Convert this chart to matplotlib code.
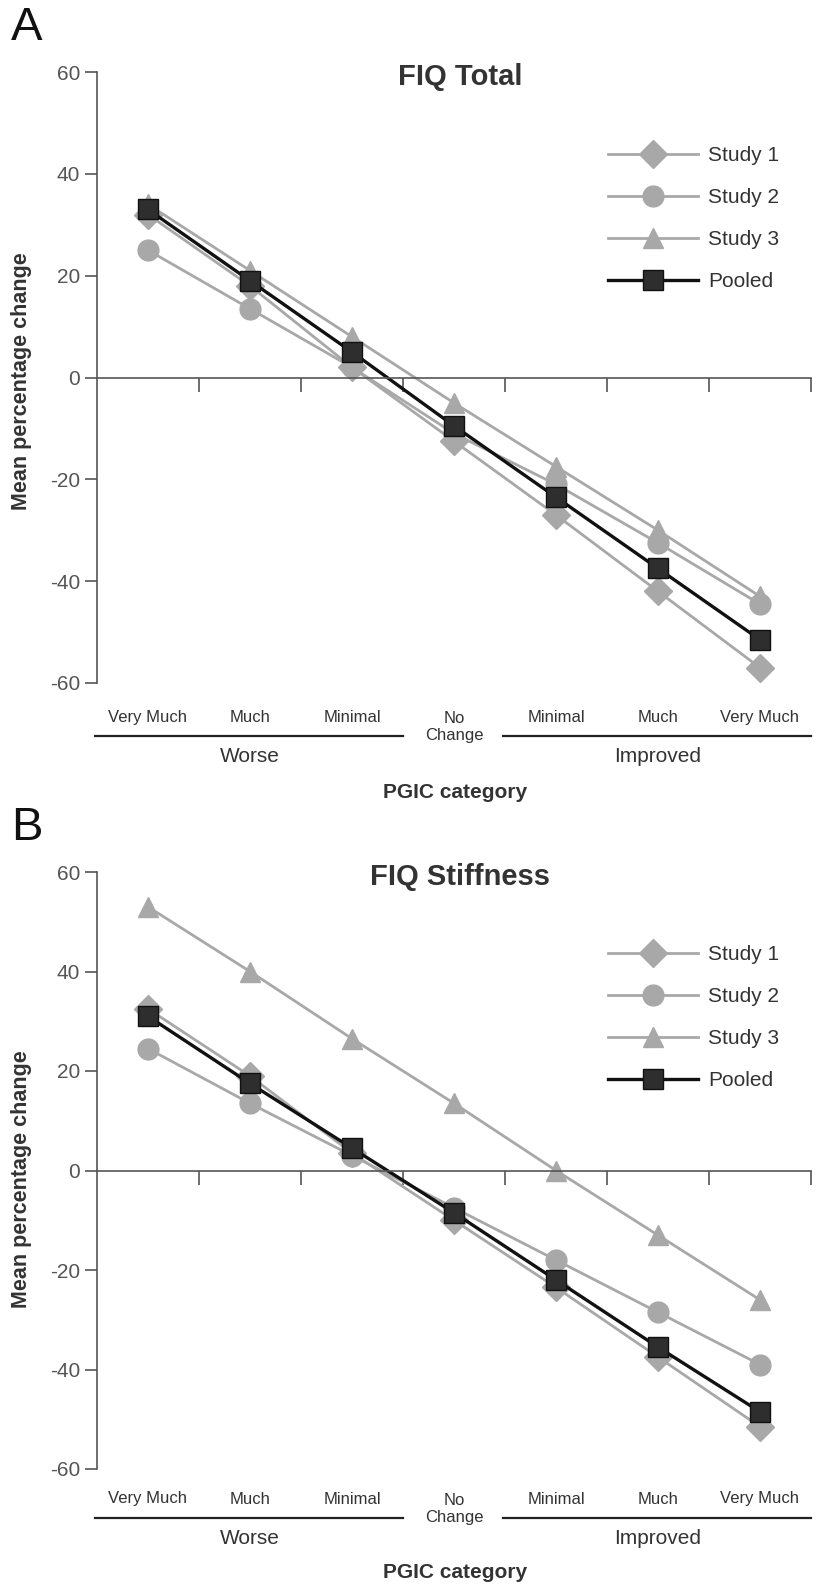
import matplotlib
matplotlib.use("Agg")
import matplotlib.pyplot as plt
from matplotlib.transforms import blended_transform_factory
from matplotlib.lines import Line2D

plt.rcParams["axes.unicode_minus"] = False

W, H = 824, 1594
SANS = ["Liberation Sans", "DejaVu Sans"]

categories = ["Very Much", "Much", "Minimal", "No\nChange", "Minimal", "Much", "Very Much"]
series_names = ["Study 1", "Study 2", "Study 3", "Pooled"]

# FIQ Total
total_study1 = [32, 18, 2, -12.5, -27, -42, -57]
total_study2 = [25, 13.5, 2, -11, -21, -32.5, -44.5]
total_study3 = [34, 21, 8, -5, -17.5, -30, -43]
total_pooled = [33, 19, 5, -9.5, -23.5, -37.5, -51.5]

# FIQ Stiffness
stiff_study1 = [32.5, 19, 3.5, -10, -23.5, -37.5, -51.5]
stiff_study2 = [24.5, 13.5, 3, -7.5, -18, -28.5, -39]
stiff_study3 = [53, 40, 26.5, 13.5, 0, -13, -26]
stiff_pooled = [31, 17.5, 4.5, -8.5, -22, -35.5, -48.5]

GRAY = "#a8a8a8"
styles = [
    dict(color=GRAY, marker="D", markersize=14, mfc=GRAY, mec=GRAY, lw=2),
    dict(color=GRAY, marker="o", markersize=15, mfc=GRAY, mec=GRAY, lw=2),
    dict(color=GRAY, marker="^", markersize=15, mfc=GRAY, mec=GRAY, lw=2),
    dict(color="#111111", marker="s", markersize=14, mfc="#2e2e2e", mec="#111111", lw=2.4),
]


def fx(px):
    return px / W


def fy(py):
    return 1 - py / H


fig = plt.figure(figsize=(W / 100, H / 100), dpi=100)


def panel(top, bottom, data, title, letter, rows, legend_y, ylab_y):
    ax = fig.add_axes([fx(97), fy(bottom), fx(811) - fx(97), fy(top) - fy(bottom)])
    xs = [i + 0.5 for i in range(len(categories))]
    for vals, st, name in zip(data, styles, series_names):
        ax.plot(xs, vals, label=name, **st)
    ax.set_xlim(0, 7)
    ax.set_ylim(-60, 60)
    for s in ["top", "right"]:
        ax.spines[s].set_visible(False)
    ax.spines["bottom"].set_position(("data", 0))
    for s in ["left", "bottom"]:
        ax.spines[s].set_color("#555555")
        ax.spines[s].set_linewidth(1.2)
    ax.set_yticks(range(-60, 61, 20))
    ax.set_xticks(range(1, 8))
    ax.set_xticklabels([])
    ax.tick_params(axis="y", direction="out", length=9, width=1.2, color="#555555",
                   labelsize=15, labelcolor="#555555", pad=3)
    ax.tick_params(axis="x", direction="out", length=10, width=1.2, color="#555555")
    for t in ax.get_yticklabels():
        t.set_family(SANS)

    tr = blended_transform_factory(ax.transData, fig.transFigure)
    lab_y, line_y, grp_y, pgic_y = rows
    for x, c in zip(xs, categories):
        if "\n" in c:
            ax.text(x, fy(lab_y + 10), c, transform=tr, ha="center", va="center",
                    fontsize=12, color="#333333", family=SANS, linespacing=1.1)
        else:
            ax.text(x, fy(lab_y), c, transform=tr, ha="center", va="center",
                    fontsize=12, color="#333333", family=SANS)
    for x0, x1, name in [(0, 3, "Worse"), (4, 7, "Improved")]:
        ax.add_line(Line2D([x0 - 0.02, x1], [fy(line_y), fy(line_y)], transform=tr,
                           color="#222222", lw=1.6, clip_on=False))
        ax.text((x0 + x1) / 2, fy(grp_y), name, transform=tr, ha="center", va="center",
                fontsize=15, color="#333333", family=SANS)
    fig.text(fx(455), fy(pgic_y), "PGIC category", ha="center", va="center",
             fontsize=15, fontweight="bold", color="#333333", family=SANS)

    fig.text(fx(460), fy(top + 5), title, ha="center", va="center", fontsize=21,
             fontweight="bold", color="#333333", family=SANS)
    fig.text(fx(11), fy(top - 44), letter, ha="left", va="center", fontsize=34,
             color="#111111", family=SANS)
    fig.text(fx(22), fy(ylab_y), "Mean percentage change", ha="center", va="center",
             rotation=90, fontsize=15.5, fontweight="bold", color="#333333", family=SANS)

    handles, labels = ax.get_legend_handles_labels()
    leg = ax.legend(handles, labels, loc="upper left", frameon=False,
                    bbox_to_anchor=(fx(600), fy(legend_y)), bbox_transform=fig.transFigure,
                    handlelength=4.3, handletextpad=0.5, labelspacing=1.1,
                    prop={"family": SANS, "size": 15}, borderaxespad=0)
    for t in leg.get_texts():
        t.set_color("#333333")
    return ax


panel(72, 683, [total_study1, total_study2, total_study3, total_pooled], "FIQ Total", "A",
      (717, 736, 757, 792), 138, 381)
panel(872, 1469, [stiff_study1, stiff_study2, stiff_study3, stiff_pooled], "FIQ Stiffness", "B",
      (1499, 1518, 1539, 1572), 937, 1179)

fig.savefig("out.png", dpi=100)
